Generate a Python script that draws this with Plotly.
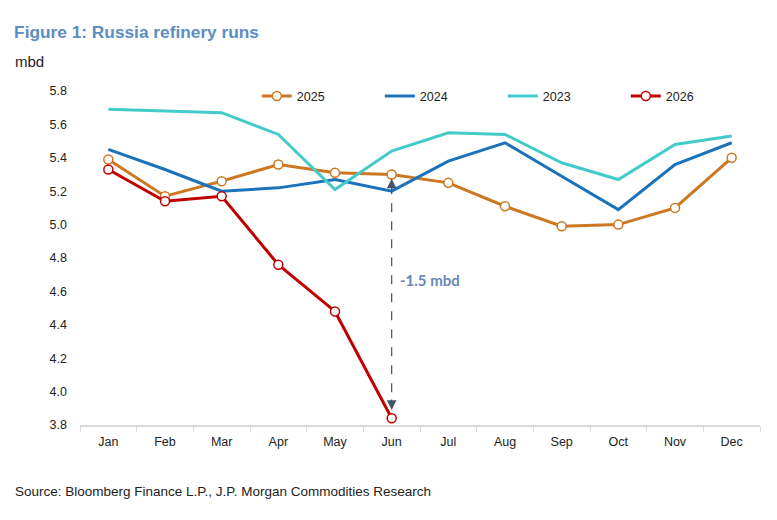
import plotly.graph_objects as go

months = ["Jan", "Feb", "Mar", "Apr", "May", "Jun", "Jul", "Aug", "Sep", "Oct", "Nov", "Dec"]
y2025 = [5.39, 5.17, 5.26, 5.36, 5.31, 5.30, 5.25, 5.11, 4.99, 5.00, 5.10, 5.40]
y2024 = [5.45, 5.33, 5.20, 5.22, 5.27, 5.20, 5.38, 5.49, 5.29, 5.09, 5.36, 5.49]
y2023 = [5.69, 5.68, 5.67, 5.54, 5.21, 5.44, 5.55, 5.54, 5.37, 5.27, 5.48, 5.53]
y2026 = [5.33, 5.14, 5.17, 4.76, 4.48, 3.84]
months2026 = months[:6]
yticks = [3.8, 4.0, 4.2, 4.4, 4.6, 4.8, 5.0, 5.2, 5.4, 5.6, 5.8]
gap_label = "-1.5 mbd"

C2025 = "#CC7722"
C2024 = "#1B72BA"
C2023 = "#45CACA"
C2026 = "#C00000"

fig = go.Figure()
fig.add_trace(go.Scatter(x=months, y=y2025, name="2025", mode="lines+markers",
                         line=dict(color=C2025, width=3),
                         marker=dict(size=9, color="white", line=dict(color=C2025, width=1.5))))
fig.add_trace(go.Scatter(x=months, y=y2024, name="2024", mode="lines",
                         line=dict(color=C2024, width=3)))
fig.add_trace(go.Scatter(x=months, y=y2023, name="2023", mode="lines",
                         line=dict(color=C2023, width=3)))
fig.add_trace(go.Scatter(x=months2026, y=y2026, name="2026", mode="lines+markers",
                         line=dict(color=C2026, width=3),
                         marker=dict(size=9, color="white", line=dict(color=C2026, width=1.5))))

jun = months[5]
top = y2025[5] - 0.025
bot = y2026[5] + 0.05
arrow_col = "#44546A"
fig.add_shape(type="line", xref="x", yref="y", x0=jun, x1=jun, y0=top - 0.04, y1=bot + 0.04,
              line=dict(color=arrow_col, width=1.2, dash="dash"))
fig.add_annotation(x=jun, y=top, ax=0, ay=12, xref="x", yref="y", text="", showarrow=True,
                   arrowhead=2, arrowsize=1.6, arrowwidth=1.2, arrowcolor=arrow_col)
fig.add_annotation(x=jun, y=bot, ax=0, ay=-12, xref="x", yref="y", text="", showarrow=True,
                   arrowhead=2, arrowsize=1.6, arrowwidth=1.2, arrowcolor=arrow_col)
fig.add_annotation(x=jun, y=(top + bot) / 2 + 0.085, xref="x", yref="y", text="<b>" + gap_label + "</b>",
                   showarrow=False, xanchor="left", xshift=6,
                   font=dict(family="Lato", size=15, color="#6987B5"))

fig.add_annotation(xref="paper", yref="paper", x=-0.099, y=1.087, xanchor="left", yanchor="middle",
                   text="mbd", showarrow=False,
                   font=dict(family="Liberation Sans", size=15, color="#222222"))
fig.add_annotation(xref="paper", yref="paper", x=-0.099, y=-0.198, xanchor="left", yanchor="middle",
                   text="Source: Bloomberg Finance L.P., J.P. Morgan Commodities Research", showarrow=False,
                   font=dict(family="Liberation Sans", size=13.5, color="#222222"))

# page has an 8px body margin, so the figure is sized/offset to compensate
fig.update_layout(
    width=761, height=504,
    margin=dict(l=72, r=9, t=83, b=87, autoexpand=False),
    paper_bgcolor="white", plot_bgcolor="white",
    font=dict(family="Liberation Sans", size=12, color="#222222"),
    title=dict(text="<b>Figure 1: Russia refinery runs</b>", x=0.008, xanchor="left",
               y=0.952, yanchor="middle", xref="container", yref="container",
               font=dict(family="Liberation Sans", size=17.3, color="#5B8DC4")),
    showlegend=True,
    legend=dict(orientation="h", x=0.26, y=1.029, xanchor="left", yanchor="top",
                entrywidth=78, entrywidthmode="pixels", bgcolor="rgba(0,0,0,0)",
                font=dict(size=12.5, color="#222222"), itemwidth=30, tracegroupgap=0),
    xaxis=dict(type="category", categoryarray=months, range=[-0.5, len(months) - 0.5],
               showgrid=False, zeroline=False,
               showline=True, linecolor="#D9D9D9", linewidth=1.5,
               ticks="outside", tickson="boundaries", ticklen=5, tickcolor="#D9D9D9",
               tickfont=dict(size=12.5), ticklabelstandoff=4),
    yaxis=dict(range=[3.8, 5.8], tickvals=yticks, ticktext=[f"{v:.1f}" for v in yticks],
               showgrid=False, zeroline=False, showline=False, ticks="",
               tickfont=dict(size=12.5), ticklabelstandoff=12),
)

fig.write_html("out.html")
